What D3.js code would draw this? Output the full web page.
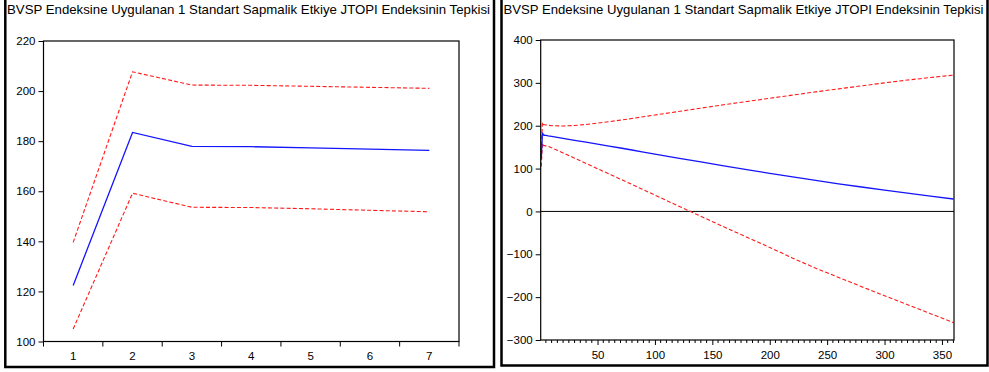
<!DOCTYPE html>
<html>
<head>
<meta charset="utf-8">
<script src="https://cdn.jsdelivr.net/npm/d3@7"></script>
<style>
  html, body { margin: 0; padding: 0; background: #fff; }
  svg { display: block; }
  text { font-family: "Liberation Sans", Arial, sans-serif; fill: #000; }
</style>
</head>
<body>
<svg id="chart" width="989" height="372"></svg>
<script>
// Impulse response of JTOPI to a one standard deviation BVSP shock
const chartTitle = "BVSP Endeksine Uygulanan 1 Standart Sapmalik Etkiye JTOPI Endeksinin Tepkisi";

// Short horizon (7 periods)
const shortPeriods = [1, 2, 3, 4, 5, 6, 7];
const shortResponse = [122.4, 183.5, 177.9, 177.8, 177.3, 176.8, 176.3];
const shortUpper    = [139.6, 207.7, 202.4, 202.3, 201.9, 201.5, 201.1];
const shortLower    = [105.0, 159.2, 153.6, 153.5, 153.0, 152.4, 151.8];
const shortYTicks = [100, 120, 140, 160, 180, 200, 220];

// Long horizon (360 periods)
const longPeriods  = [1, 2, 3, 4, 5, 6, 7, 10, 20, 30, 40, 50, 60, 70, 80, 90, 100, 120, 140, 160, 180, 200, 220, 240, 260, 280, 300, 320, 340, 360];
const longResponse = [122.4, 183.5, 177.9, 177.8, 177.3, 176.8, 176.3, 175.0, 170.5, 166.0, 161.5, 157.0, 152.5, 148.0, 143.3, 138.5, 133.8, 124.5, 115.5, 106.5, 97.5, 89.0, 80.5, 72.5, 64.5, 57.0, 49.5, 42.5, 35.5, 29.0];
const longUpper    = [139.6, 207.7, 202.4, 202.3, 201.9, 201.5, 201.1, 200.0, 199.3, 200.5, 203.0, 206.0, 209.5, 213.0, 217.0, 221.0, 225.0, 233.0, 241.0, 249.0, 256.5, 264.0, 271.5, 279.0, 286.0, 293.0, 300.0, 306.5, 312.5, 318.0];
const longLower    = [105.0, 159.2, 153.6, 153.5, 153.0, 152.4, 151.8, 148.5, 136.5, 124.3, 112.0, 99.7, 87.5, 75.2, 63.0, 50.5, 38.0, 13.2, -11.5, -36.0, -60.0, -84.0, -109.0, -132.5, -154.0, -175.5, -196.5, -217.5, -238.5, -259.5];
const longYTicks = [-300, -200, -100, 0, 100, 200, 300, 400];
const longXTicks = [50, 100, 150, 200, 250, 300, 350];

const svg = d3.select("#chart");
const RED = "#ff1a1a", BLUE = "#1414ff";

// Outer panel frames
function frame(x0, x1, yBot) {
  const g = svg.append("g").attr("fill", "none").attr("stroke", "#000").attr("stroke-width", 2.5);
  g.append("path").attr("d", `M${x0},-2 V${yBot} H${x1} V-2`);
}
frame(5.3, 494, 367);
frame(501.5, 987.5, 365.5);

// Titles
function title(x, width) {
  svg.append("text")
    .attr("x", x).attr("y", 13.5).attr("font-size", 13)
    .attr("textLength", width).attr("lengthAdjust", "spacingAndGlyphs")
    .text(chartTitle);
}
title(7, 483);
title(503.5, 480);

function drawLine(g, x, y, xs, ys, color, dashed) {
  const pts = xs.map((p, i) => [x(p), y(ys[i])]);
  g.append("path")
    .attr("d", d3.line()(pts))
    .attr("fill", "none")
    .attr("stroke", color)
    .attr("stroke-width", dashed ? 1.1 : 1.3)
    .attr("stroke-dasharray", dashed ? "4,2.2" : null);
}

// ---------- Left panel ----------
{
  const L = 43.5, R = 459, T = 41, B = 341.5;
  const x = d3.scaleBand().domain(shortPeriods).range([L, R]);
  const y = d3.scaleLinear().domain([100, 220]).range([B, T]);
  const g = svg.append("g");

  const yAxis = d3.axisLeft(y).tickValues(shortYTicks).tickSize(5).tickPadding(3);
  g.append("g").attr("transform", `translate(${L},0)`).call(yAxis)
    .call(s => s.select(".domain").remove())
    .call(s => s.selectAll("text").attr("font-size", 11.5).attr("font-family", "Liberation Sans, Arial, sans-serif"));

  // ticks at band edges, labels at band centres
  const edges = shortPeriods.map(p => x(p)).concat([R]);
  g.selectAll("line.xt").data(edges).join("line")
    .attr("x1", d => d).attr("x2", d => d).attr("y1", B).attr("y2", B + 5)
    .attr("stroke", "#000");
  g.selectAll("text.xl").data(shortPeriods).join("text")
    .attr("x", d => x(d) + x.bandwidth() / 2).attr("y", 360)
    .attr("text-anchor", "middle").attr("font-size", 11.5).text(d => d);

  const cx = p => x(p) + x.bandwidth() / 2;
  drawLine(g, cx, y, shortPeriods, shortUpper, RED, true);
  drawLine(g, cx, y, shortPeriods, shortLower, RED, true);
  drawLine(g, cx, y, shortPeriods, shortResponse, BLUE, false);

  g.append("rect").attr("x", L).attr("y", T).attr("width", R - L).attr("height", B - T)
    .attr("fill", "none").attr("stroke", "#000").attr("stroke-width", 1.2);
}

// ---------- Right panel ----------
{
  const L = 540.7, R = 954, T = 40, B = 340;
  const x = d3.scaleLinear().domain([0.5, 360.5]).range([L, R]);
  const y = d3.scaleLinear().domain([-300, 400]).range([B, T]);
  const g = svg.append("g");

  const yAxis = d3.axisLeft(y).tickValues(longYTicks).tickSize(5).tickPadding(3);
  g.append("g").attr("transform", `translate(${L},0)`).call(yAxis)
    .call(s => s.select(".domain").remove())
    .call(s => s.selectAll("text").attr("font-size", 11.5).attr("font-family", "Liberation Sans, Arial, sans-serif"));

  // minor ticks every 5 periods, major every 50
  const minor = d3.range(5, 361, 5).filter(v => v % 50 !== 0);
  g.selectAll("line.mn").data(minor).join("line")
    .attr("x1", d => x(d)).attr("x2", d => x(d)).attr("y1", B).attr("y2", B + 3)
    .attr("stroke", "#000");
  const xAxis = d3.axisBottom(x).tickValues(longXTicks).tickSize(5).tickPadding(6);
  g.append("g").attr("transform", `translate(0,${B})`).call(xAxis)
    .call(s => s.select(".domain").remove())
    .call(s => s.selectAll("text").attr("font-size", 11.5).attr("font-family", "Liberation Sans, Arial, sans-serif"));

  // zero line
  g.append("line").attr("x1", L).attr("x2", R).attr("y1", y(0)).attr("y2", y(0))
    .attr("stroke", "#000").attr("stroke-width", 1);

  drawLine(g, x, y, longPeriods, longUpper, RED, true);
  drawLine(g, x, y, longPeriods, longLower, RED, true);
  drawLine(g, x, y, longPeriods, longResponse, BLUE, false);

  g.append("rect").attr("x", L).attr("y", T).attr("width", R - L).attr("height", B - T)
    .attr("fill", "none").attr("stroke", "#000").attr("stroke-width", 1.2);
}
</script>
</body>
</html>
